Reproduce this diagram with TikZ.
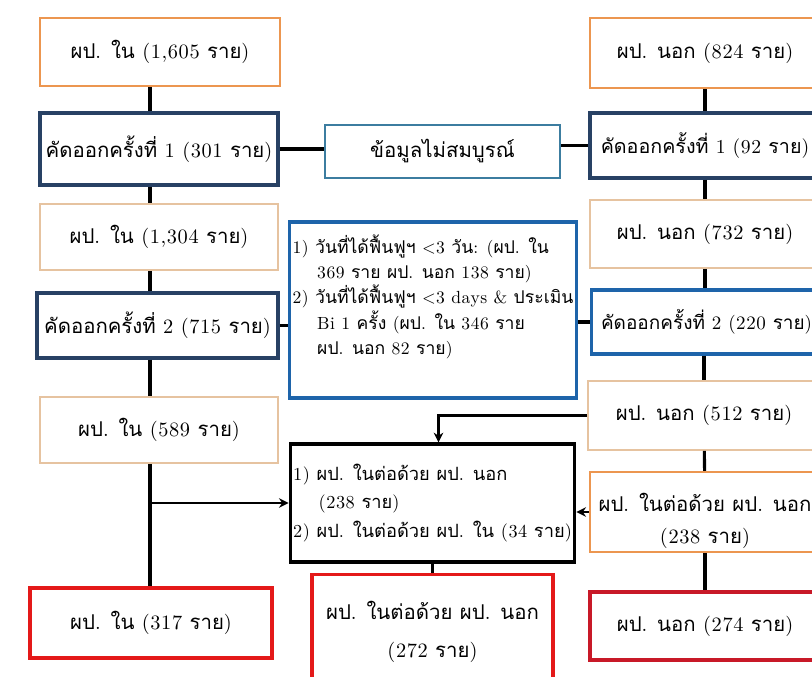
\documentclass[tikz,border=0pt]{standalone}
\usepackage{fontspec}
\newfontfamily\thaifont[Script=Thai]{Loma}
\newfontfamily\latinfont[LetterSpace=3]{lmroman10-regular.otf}
% Thai letters in Loma, everything else in Latin Modern
\XeTeXinterchartokenstate=1
\newXeTeXintercharclass\thaiclass
\newcount\thaichar
\thaichar="0E01
\loop
  \XeTeXcharclass\thaichar=\thaiclass
  \ifnum\thaichar<"0E5B \advance\thaichar by 1
\repeat
\XeTeXinterchartoks 0 \thaiclass = {\thaifont}
\XeTeXinterchartoks 4095 \thaiclass = {\thaifont}
\XeTeXinterchartoks \thaiclass 0 = {\latinfont}
\XeTeXinterchartoks \thaiclass 4095 = {\latinfont}
\usetikzlibrary{arrows.meta, calc}
\definecolor{startorange}{RGB}{236,150,80}
\definecolor{cutnavy}{RGB}{40,65,100}
\definecolor{remaintan}{RGB}{230,195,160}
\definecolor{missingblue}{RGB}{60,125,160}
\definecolor{reasonblue}{RGB}{30,100,170}
\definecolor{resultred}{RGB}{228,25,25}
\definecolor{resultdark}{RGB}{200,25,40}
\tikzset{
    flowbox/.style={rectangle, fill=white, inner sep=2pt, font=\latinfont\fontsize{14.5}{20}\selectfont},
    startbox/.style={flowbox, draw=startorange, line width=1.6pt},
    cutbox/.style={flowbox, draw=cutnavy, line width=2.4pt},
    remainbox/.style={flowbox, draw=remaintan, line width=1.2pt},
    missingbox/.style={flowbox, draw=missingblue, line width=1.4pt},
    reasonbox/.style={flowbox, draw=reasonblue, line width=2.2pt, font=\latinfont\fontsize{12.5}{18}\selectfont},
    mergebox/.style={flowbox, draw=black, line width=2.4pt, font=\latinfont\fontsize{13}{20}\selectfont},
    resultbox/.style={flowbox, draw=resultred, line width=2.4pt},
    link/.style={line width=2.2pt, black},
    arrow/.style={-{Stealth[length=2.4mm, width=2.4mm]}, line width=1.8pt, black},
}

\begin{document}
\begin{tikzpicture}[x=0.025cm, y=-0.025cm]
    \useasboundingbox (0,0) rectangle (812,677);
    \fill[white] (0,0) rectangle (812,677);
    \clip (0,0) rectangle (812,677);
    % left column (in-patients)
    \node[startbox, minimum width=6cm, minimum height=1.7cm] (L1) at (160,52) {ผป. ใน (1,605 ราย)};
    \node[cutbox, minimum width=5.95cm, minimum height=1.8cm] (L2) at (159,149) {คัดออกครั้งที่ 1 (301 ราย)};
    \node[remainbox, minimum width=5.95cm, minimum height=1.65cm] (L3) at (159,237) {ผป. ใน (1,304 ราย)};
    \node[cutbox, minimum width=6.025cm, minimum height=1.625cm] (L4) at (157.5,325.5) {คัดออกครั้งที่ 2 (715 ราย)};
    \node[remainbox, minimum width=5.95cm, minimum height=1.65cm] (L5) at (159,430) {ผป. ใน (589 ราย)};
    \node[resultbox, minimum width=6.05cm, minimum height=1.75cm] (L6) at (151,623) {ผป. ใน (317 ราย)};
    % middle column
    \node[missingbox, minimum width=5.875cm, minimum height=1.325cm] (M1) at (442.5,151.5) {ข้อมูลไม่สมบูรณ์};
    \node[reasonbox, minimum width=7.05cm, minimum height=4.4cm, align=left] (M2) at (433,310) {1) วันที่ได้ฟื้นฟูฯ <3 วัน: (ผป. ใน\\
        \hspace*{1.4em}369 ราย ผป. นอก 138 ราย)\\
        2) วันที่ได้ฟื้นฟูฯ <3 days \& ประเมิน\\
        \hspace*{1.4em}Bi 1 ครั้ง (ผป. ใน 346 ราย\\
        \hspace*{1.4em}ผป. นอก 82 ราย)\rule[-22pt]{0pt}{1pt}};
    \node[mergebox, minimum width=7.025cm, minimum height=2.95cm, align=left] (M3) at (432.5,503) {1) ผป. ในต่อด้วย ผป. นอก\\
        \hspace*{1.4em}(238 ราย)\\
        2) ผป. ในต่อด้วย ผป. ใน (34 ราย)};
    \node[resultbox, minimum width=6.025cm, minimum height=2.875cm, align=center, font=\latinfont\fontsize{14.5}{27}\selectfont] (M4) at (432.5,632) {ผป. ในต่อด้วย ผป. นอก\\(272 ราย)};
    % right column (out-patients)
    \node[startbox, minimum width=5.75cm, minimum height=1.75cm] (R1) at (705,53) {ผป. นอก (824 ราย)};
    \node[cutbox, minimum width=5.75cm, minimum height=1.625cm, font=\latinfont\fontsize{14}{20}\selectfont] (R2) at (705,145.5) {คัดออกครั้งที่ 1 (92 ราย)};
    \node[remainbox, minimum width=5.75cm, minimum height=1.7cm] (R3) at (705,234) {ผป. นอก (732 ราย)};
    \node[reasonbox, font=\latinfont\fontsize{13.5}{20}\selectfont, minimum width=5.75cm, minimum height=1.6cm, anchor=west] (R4) at (590,322) {คัดออกครั้งที่ 2 (220 ราย)};
    \node[remainbox, minimum width=5.8cm, minimum height=1.725cm] (R5) at (704,415.5) {ผป. นอก (512 ราย)};
    \node[startbox, minimum width=5.75cm, minimum height=2cm, align=center, font=\latinfont\fontsize{14.5}{23}\selectfont] (R6) at (705,512) {\rule{0pt}{26pt}ผป. ในต่อด้วย ผป. นอก\\(238 ราย)};
    \node[resultbox, draw=resultdark, minimum width=5.75cm, minimum height=1.7cm] (R7) at (705,626) {ผป. นอก (274 ราย)};

    \coordinate (lx) at (150,0);
    \coordinate (lbranch) at (150,503);
    % left links
    \draw[link] (L1.south -| lx) -- (L2.north -| lx);
    \draw[link] (L2.south -| lx) -- (L3.north -| lx);
    \draw[link] (L3.south -| lx) -- (L4.north -| lx);
    \draw[link] (L4.south -| lx) -- (L5.north -| lx);
    \draw[link] (L5.south -| lx) -- (L6.north -| lx);
    \draw[arrow] (lbranch) -- (M3.west);
    % right links
    \draw[link] (R1) -- (R2);
    \draw[link] (R2) -- (R3);
    \draw[link] (R3) -- (R4.north -| R3);
    \draw[link] (R4.south -| R5) -- (R5);
    \draw[link] (R5) -- (R6);
    \draw[link] (R6) -- (R7);
    \draw[arrow] (R5.west) -| ($(M3.north)+(6,0)$);
    \draw[arrow] (R6.west) -- (R6.west -| M3.east);
    % side links
    \draw[link] (L2.east) -- (L2.east -| M1.west);
    \draw[link] (R2.west) -- (R2.west -| M1.east);
    \draw[link] (L4.east) -- (L4.east -| M2.west);
    \draw[link] (R4.west) -- (R4.west -| M2.east);
    \draw[link] (M3) -- (M4);
\end{tikzpicture}
\end{document}
